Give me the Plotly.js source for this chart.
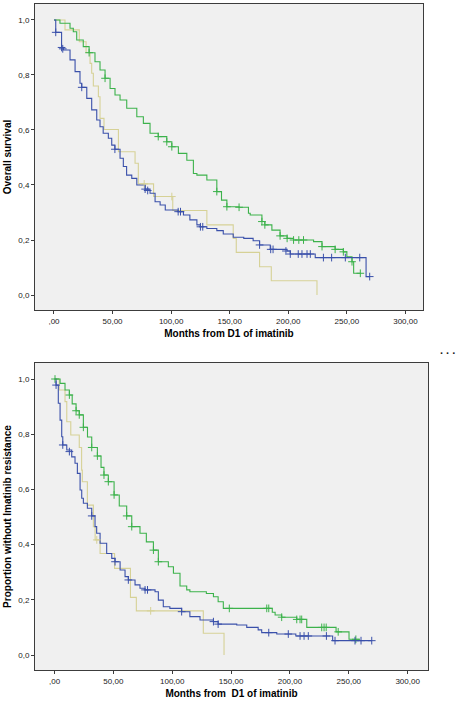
<!DOCTYPE html>
<html>
<head>
<meta charset="utf-8">
<script src="https://cdn.plot.ly/plotly-3.0.1.min.js"></script>
<style>
html,body{margin:0;padding:0;background:#fff;}
#chart{width:456px;height:704px;}
</style>
</head>
<body>
<div id="chart"></div>
<script>
// ---------- Tick labels ----------
var xTickVals = [0, 50, 100, 150, 200, 250, 300];
var xTickText = [",00", "50,00", "100,00", "150,00", "200,00", "250,00", "300,00"];
var yTickVals = [0, 0.2, 0.4, 0.6, 0.8, 1.0];
var yTickText = ["0,0", "0,2", "0,4", "0,6", "0,8", "1,0"];

// ---------- Panel 1: Overall survival ----------
var osBlueT = [0, 1.5, 6.5, 8, 13.7, 18, 22.2, 23.7, 28, 32.2, 36.5, 39.3, 42, 46.4, 49.3, 52, 56.4, 59.2, 62, 66.4, 70.7, 77.8, 82, 86.3, 90.6, 95, 106, 110.5, 116, 122, 125, 130.5, 139, 144.5, 153, 162, 170, 175.5, 184.6, 199, 201.7, 223, 266.4, 269.5];
var osBlueS = [1.0, 0.955, 0.90, 0.891, 0.855, 0.812, 0.77, 0.755, 0.715, 0.673, 0.636, 0.612, 0.588, 0.57, 0.545, 0.53, 0.497, 0.467, 0.436, 0.424, 0.40, 0.385, 0.37, 0.339, 0.327, 0.309, 0.303, 0.291, 0.273, 0.255, 0.248, 0.242, 0.234, 0.222, 0.21, 0.206, 0.197, 0.182, 0.166, 0.16, 0.149, 0.136, 0.067, 0.067];
var osBlueCensT = [1.5, 6.5, 7.5, 23.7, 52, 77.8, 80, 106, 108, 125, 127, 175.5, 185, 187, 198, 201.7, 208.5, 211.7, 216, 218.8, 230, 237, 248.7, 261, 269.5];
var osBlueCensS = [0.955, 0.90, 0.895, 0.755, 0.53, 0.385, 0.38, 0.303, 0.303, 0.248, 0.248, 0.182, 0.166, 0.166, 0.16, 0.149, 0.149, 0.149, 0.149, 0.149, 0.136, 0.136, 0.136, 0.136, 0.067];

var osGreenT = [0, 5.1, 13.7, 16.5, 19.4, 25, 30, 35, 39.3, 43.6, 47.9, 52.1, 56.4, 62.1, 70.7, 76.3, 82, 89, 96.3, 100.6, 106.2, 113.4, 119, 122, 130.5, 139, 143, 147.6, 158, 166, 167.5, 177.5, 180, 186, 193, 199, 204.5, 221.6, 228.8, 240, 247, 250, 254.4, 255.8, 261.5];
var osGreenS = [1.0, 0.988, 0.97, 0.957, 0.927, 0.903, 0.881, 0.848, 0.818, 0.788, 0.751, 0.727, 0.709, 0.679, 0.648, 0.624, 0.588, 0.576, 0.557, 0.539, 0.515, 0.49, 0.442, 0.436, 0.418, 0.376, 0.345, 0.321, 0.319, 0.297, 0.291, 0.267, 0.255, 0.236, 0.215, 0.206, 0.20, 0.194, 0.176, 0.166, 0.157, 0.139, 0.121, 0.079, 0.079];
var osGreenCensT = [30, 43.6, 89, 96.3, 100.6, 139, 147.6, 158, 177.5, 180, 193, 199, 204.5, 209, 213, 228.8, 240, 247, 254.4, 261.5];
var osGreenCensS = [0.881, 0.788, 0.576, 0.557, 0.539, 0.376, 0.321, 0.319, 0.267, 0.255, 0.215, 0.206, 0.20, 0.20, 0.20, 0.176, 0.166, 0.157, 0.121, 0.079];

var osYellowT = [0, 9.4, 21.6, 27.4, 30.8, 32.2, 33.6, 37.9, 39.3, 42.7, 55, 69.2, 72, 85, 101.4, 130.5, 153, 155.6, 175.5, 185.5, 224.5];
var osYellowS = [1.0, 0.964, 0.921, 0.881, 0.842, 0.806, 0.76, 0.721, 0.642, 0.602, 0.521, 0.479, 0.404, 0.358, 0.307, 0.255, 0.206, 0.155, 0.103, 0.052, 0.0];
var osYellowCensT = [77, 100.6];
var osYellowCensS = [0.404, 0.358];

// ---------- Panel 2: Proportion without imatinib resistance ----------
var prBlueT = [0, 1.3, 3.2, 4.7, 6.1, 7, 10.4, 14.6, 17.4, 19.4, 21.7, 23.1, 24.5, 27.9, 31.6, 34.4, 35.8, 38.7, 44.3, 48.6, 51.4, 55.7, 59.9, 62.7, 68.4, 72.6, 76.9, 85.4, 88.2, 92.4, 98, 108, 115, 123.6, 135, 139, 154.8, 163.3, 173, 176, 188.8, 205, 236.3, 269.5];
var prBlueS = [1.0, 0.978, 0.912, 0.851, 0.791, 0.761, 0.743, 0.718, 0.695, 0.658, 0.598, 0.568, 0.55, 0.532, 0.504, 0.465, 0.441, 0.405, 0.368, 0.35, 0.338, 0.308, 0.284, 0.272, 0.254, 0.242, 0.236, 0.229, 0.199, 0.175, 0.169, 0.157, 0.139, 0.127, 0.121, 0.112, 0.109, 0.10, 0.091, 0.081, 0.076, 0.069, 0.052, 0.052];
var prBlueCensT = [1.3, 7, 12.6, 31.6, 51.4, 62.7, 76.9, 79, 108, 135, 139, 182, 198.6, 208.6, 212, 215.6, 231, 238.3, 255.3, 260.4, 269.5];
var prBlueCensS = [0.978, 0.761, 0.737, 0.504, 0.338, 0.272, 0.236, 0.236, 0.157, 0.121, 0.112, 0.081, 0.076, 0.069, 0.069, 0.069, 0.069, 0.052, 0.052, 0.052, 0.052];

var prGreenT = [0, 4.7, 8.9, 12.6, 15, 18.3, 21, 24.5, 28, 31.6, 36.4, 39.5, 42, 45.7, 50.6, 55, 61.3, 65.6, 72.6, 78, 84, 88.2, 96.7, 101, 106.6, 112.3, 115, 129, 135, 139, 143.4, 185, 187.4, 193, 205.8, 214.3, 239.2, 250.2, 259.6];
var prGreenS = [1.0, 0.984, 0.96, 0.942, 0.91, 0.885, 0.87, 0.825, 0.79, 0.752, 0.721, 0.68, 0.652, 0.628, 0.58, 0.54, 0.504, 0.465, 0.441, 0.41, 0.38, 0.338, 0.32, 0.296, 0.25, 0.236, 0.229, 0.223, 0.211, 0.193, 0.169, 0.155, 0.145, 0.137, 0.129, 0.10, 0.084, 0.057, 0.057];
var prGreenCensT = [0.4, 12.6, 18.3, 21, 24.5, 31.6, 36.4, 42, 45.7, 50.6, 61.3, 65.6, 84, 88.2, 148.5, 180.3, 182, 193, 205.8, 208.6, 210, 227, 229, 230.8, 241, 256];
var prGreenCensS = [1.0, 0.942, 0.885, 0.87, 0.825, 0.752, 0.721, 0.652, 0.628, 0.58, 0.504, 0.465, 0.38, 0.338, 0.169, 0.169, 0.169, 0.137, 0.129, 0.129, 0.129, 0.10, 0.10, 0.10, 0.084, 0.057];

var prYellowT = [0, 4, 8.9, 10.4, 13.8, 21, 23, 23.6, 27.9, 33, 34.5, 38.7, 51, 64.5, 69.5, 126.4, 144];
var prYellowS = [1.0, 0.96, 0.918, 0.845, 0.797, 0.752, 0.67, 0.628, 0.543, 0.465, 0.417, 0.368, 0.314, 0.209, 0.16, 0.079, 0.0];
var prYellowCensT = [35.9, 81.7];
var prYellowCensS = [0.417, 0.16];

// ---------- Styles ----------
var BLUE = "rgb(58,80,170)";
var GREEN = "rgb(60,178,75)";
var YELLOW = "rgb(214,209,150)";
var FONT = "Liberation Sans, Arial, sans-serif";

function curve(t, s, color, xa, ya) {
  return {x: t, y: s, xaxis: xa, yaxis: ya, type: "scatter", mode: "lines",
    line: {color: color, width: 1.1, shape: "hv"}, hoverinfo: "skip", showlegend: false};
}
function cens(t, s, color, xa, ya) {
  return {x: t, y: s, xaxis: xa, yaxis: ya, type: "scatter", mode: "markers",
    marker: {symbol: "cross-thin", size: 5.5, color: color, line: {color: color, width: 1}},
    hoverinfo: "skip", showlegend: false};
}

var data = [
  curve(osYellowT, osYellowS, YELLOW, "x", "y"),
  curve(osGreenT, osGreenS, GREEN, "x", "y"),
  curve(osBlueT, osBlueS, BLUE, "x", "y"),
  cens(osYellowCensT, osYellowCensS, YELLOW, "x", "y"),
  cens(osGreenCensT, osGreenCensS, GREEN, "x", "y"),
  cens(osBlueCensT, osBlueCensS, BLUE, "x", "y"),
  curve(prYellowT, prYellowS, YELLOW, "x2", "y2"),
  curve(prGreenT, prGreenS, GREEN, "x2", "y2"),
  curve(prBlueT, prBlueS, BLUE, "x2", "y2"),
  cens(prYellowCensT, prYellowCensS, YELLOW, "x2", "y2"),
  cens(prGreenCensT, prGreenCensS, GREEN, "x2", "y2"),
  cens(prBlueCensT, prBlueCensS, BLUE, "x2", "y2")
];

var W = 456, H = 704;
function xd(a, b) { return [a / W, b / W]; }
function yd(top, bot) { return [1 - bot / H, 1 - top / H]; }

function xaxisCfg(dom, range, title, anchor) {
  return {domain: dom, range: range, anchor: anchor, tickmode: "array", tickvals: xTickVals, ticktext: xTickText,
    showline: true, mirror: true, linecolor: "#3c3c3c", linewidth: 1, ticks: "outside", ticklen: 3,
    tickcolor: "#3c3c3c", tickwidth: 1, showgrid: false, zeroline: false,
    tickfont: {family: FONT, size: 8, color: "#222"},
    title: {text: title, font: {family: FONT, size: 10, color: "#000", weight: "bold"}, standoff: 5}};
}
function yaxisCfg(dom, range, title, anchor) {
  return {domain: dom, range: range, anchor: anchor, tickmode: "array", tickvals: yTickVals, ticktext: yTickText,
    showline: true, mirror: true, linecolor: "#3c3c3c", linewidth: 1, ticks: "outside", ticklen: 3,
    tickcolor: "#3c3c3c", tickwidth: 1, showgrid: false, zeroline: false,
    tickfont: {family: FONT, size: 8, color: "#222"},
    title: {text: title, font: {family: FONT, size: 10, color: "#000", weight: "bold"}, standoff: 4}};
}

var layout = {
  width: W, height: H,
  margin: {l: 0, r: 0, t: 0, b: 0},
  paper_bgcolor: "#ffffff",
  plot_bgcolor: "#f0f0f0",
  showlegend: false,
  xaxis: xaxisCfg(xd(35, 423), [-16.2, 315], "Months from D1 of imatinib", "y"),
  yaxis: yaxisCfg(yd(4, 310), [-0.0545, 1.058], "Overall survival", "x"),
  xaxis2: xaxisCfg(xd(35, 428), [-16.6, 317.3], "Months from \u00a0D1 of imatinib", "y2"),
  yaxis2: yaxisCfg(yd(363, 670), [-0.0543, 1.058], "Proportion without Imatinib resistance", "x2"),
  annotations: [
    {text: "<b>. . .</b>", xref: "paper", yref: "paper", x: 447 / W, y: 1 - 350 / H, showarrow: false,
     font: {family: FONT, size: 11, color: "#222"}, xanchor: "center", yanchor: "middle"}
  ]
};

Plotly.newPlot("chart", data, layout, {staticPlot: true, displayModeBar: false});
</script>
</body>
</html>
